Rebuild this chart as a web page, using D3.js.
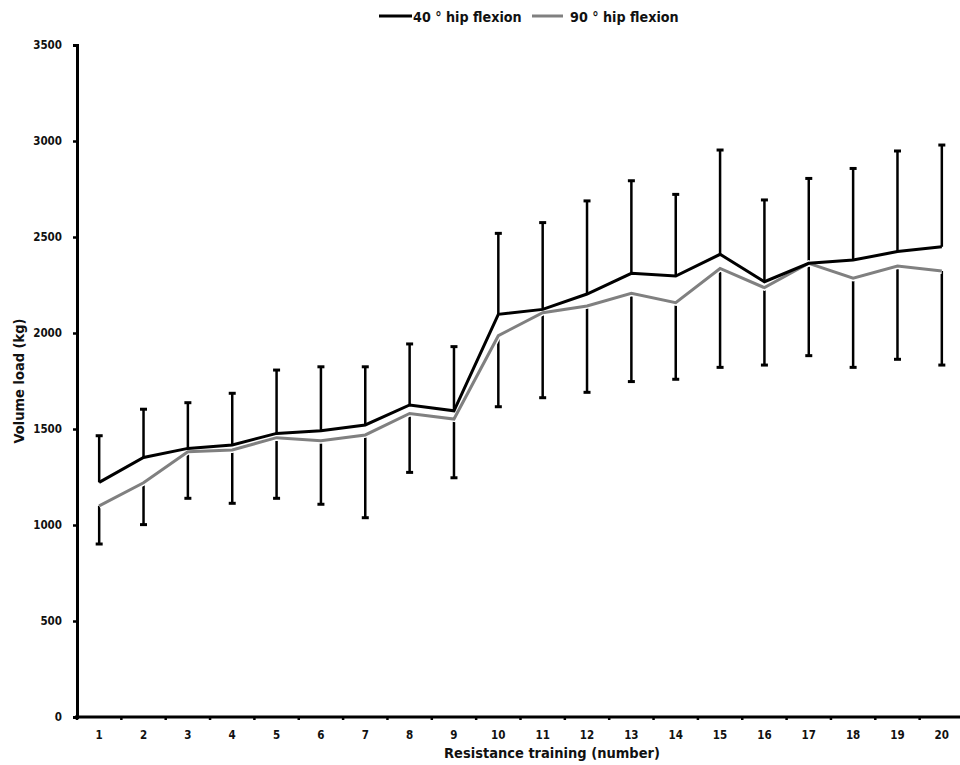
<!DOCTYPE html>
<html>
<head>
<meta charset="utf-8">
<script src="https://cdn.jsdelivr.net/npm/d3@7"></script>
<style>
  body { margin: 0; background: #fff; }
  svg text { font-family: "DejaVu Sans Condensed", "DejaVu Sans", sans-serif; font-weight: bold; }
</style>
</head>
<body>
<div id="chart"></div>
<script>
const WIDTH = 960;
const HEIGHT = 765;

// sessions 1..20
const sessions = d3.range(1, 21);
// 40 deg hip flexion: mean and upper SD end
const mean40 = [1222, 1352, 1399, 1417, 1477, 1491, 1521, 1625, 1595, 2097, 2123, 2203, 2311, 2297, 2410, 2267, 2363, 2380, 2424, 2449];
const upper40 = [1465, 1603, 1637, 1686, 1807, 1824, 1824, 1943, 1929, 2519, 2575, 2688, 2793, 2722, 2953, 2693, 2805, 2857, 2948, 2979];
// 90 deg hip flexion: mean and lower SD end
const mean90 = [1100, 1220, 1382, 1391, 1455, 1439, 1469, 1581, 1552, 1986, 2106, 2141, 2207, 2158, 2336, 2236, 2363, 2285, 2349, 2323];
const lower90 = [901, 1002, 1139, 1113, 1139, 1108, 1038, 1274, 1246, 1616, 1663, 1691, 1747, 1759, 1821, 1833, 1882, 1821, 1863, 1833];
const yTicks = [0, 500, 1000, 1500, 2000, 2500, 3000, 3500];
const legendLabels = ["40 \u00b0 hip flexion", "90 \u00b0 hip flexion"];

const svg = d3.select("#chart").append("svg")
    .attr("width", WIDTH)
    .attr("height", HEIGHT);

const x = d3.scalePoint()
    .domain(sessions)
    .range([77, 964])
    .padding(0.5);

const y = d3.scaleLinear()
    .domain([0, 3500])
    .range([717, 45]);

const step = x.step();

// y axis
const yAxis = svg.append("g")
    .attr("transform", "translate(77,0)")
    .call(d3.axisLeft(y).tickValues(yTicks).tickFormat(d3.format("d")).tickSize(4).tickPadding(11));
yAxis.select(".domain").attr("stroke", "#000").attr("stroke-width", 3);
yAxis.selectAll(".tick line").attr("stroke-width", 2.5);
yAxis.selectAll("text").attr("font-size", 11.5).attr("fill", "#111");

// x axis: ticks sit between categories
const xAxis = svg.append("g").attr("transform", "translate(0,717)");
xAxis.append("line")
    .attr("x1", 75).attr("x2", 964)
    .attr("stroke", "#000").attr("stroke-width", 3);
xAxis.selectAll(".sep")
    .data(sessions)
    .join("line")
    .attr("x1", d => x(d) - step / 2)
    .attr("x2", d => x(d) - step / 2)
    .attr("y1", 0).attr("y2", 3)
    .attr("stroke", "#000").attr("stroke-width", 2.5);
xAxis.selectAll(".lbl")
    .data(sessions)
    .join("text")
    .attr("x", d => x(d))
    .attr("y", 22)
    .attr("text-anchor", "middle")
    .attr("font-size", 11.5)
    .attr("fill", "#111")
    .text(d => d);

// axis titles
svg.append("text")
    .attr("x", 552).attr("y", 758)
    .attr("text-anchor", "middle")
    .attr("font-size", 14.5)
    .attr("fill", "#111")
    .text("Resistance training (number)");
svg.append("text")
    .attr("transform", "translate(24,381) rotate(-90)")
    .attr("text-anchor", "middle")
    .attr("font-size", 14.5)
    .attr("fill", "#111")
    .text("Volume load (kg)");

// error bars
const bars = svg.append("g").attr("stroke", "#000").attr("stroke-width", 2.5);
bars.selectAll(".up")
    .data(sessions)
    .join("line")
    .attr("x1", d => x(d)).attr("x2", d => x(d))
    .attr("y1", (d, i) => y(mean40[i]))
    .attr("y2", (d, i) => y(upper40[i]));
bars.selectAll(".down")
    .data(sessions)
    .join("line")
    .attr("x1", d => x(d)).attr("x2", d => x(d))
    .attr("y1", (d, i) => y(mean90[i]))
    .attr("y2", (d, i) => y(lower90[i]));
bars.selectAll(".capUp")
    .data(sessions)
    .join("line")
    .attr("x1", d => x(d) - 3.5).attr("x2", d => x(d) + 3.5)
    .attr("y1", (d, i) => y(upper40[i]))
    .attr("y2", (d, i) => y(upper40[i]))
    .attr("stroke-width", 3);
bars.selectAll(".capDown")
    .data(sessions)
    .join("line")
    .attr("x1", d => x(d) - 3.5).attr("x2", d => x(d) + 3.5)
    .attr("y1", (d, i) => y(lower90[i]))
    .attr("y2", (d, i) => y(lower90[i]))
    .attr("stroke-width", 3);

// lines
const line = vals => d3.line()
    .x((d, i) => x(sessions[i]))
    .y(d => y(d))(vals);

svg.append("path")
    .attr("d", line(mean90))
    .attr("fill", "none")
    .attr("stroke", "#fff")
    .attr("stroke-width", 6);
svg.append("path")
    .attr("d", line(mean90))
    .attr("fill", "none")
    .attr("stroke", "#808080")
    .attr("stroke-width", 3);
svg.append("path")
    .attr("d", line(mean40))
    .attr("fill", "none")
    .attr("stroke", "#000")
    .attr("stroke-width", 3);

// legend
const legend = svg.append("g");
const legendItems = [
  {x1: 379, x2: 412, tx: 413, color: "#000", label: legendLabels[0]},
  {x1: 532, x2: 563, tx: 570, color: "#808080", label: legendLabels[1]}
];
legend.selectAll("line")
    .data(legendItems)
    .join("line")
    .attr("x1", d => d.x1).attr("x2", d => d.x2)
    .attr("y1", 16).attr("y2", 16)
    .attr("stroke", d => d.color)
    .attr("stroke-width", 3);
legend.selectAll("text")
    .data(legendItems)
    .join("text")
    .attr("x", d => d.tx)
    .attr("y", 22)
    .attr("font-size", 14.2)
    .attr("fill", "#111")
    .text(d => d.label);
</script>
</body>
</html>
